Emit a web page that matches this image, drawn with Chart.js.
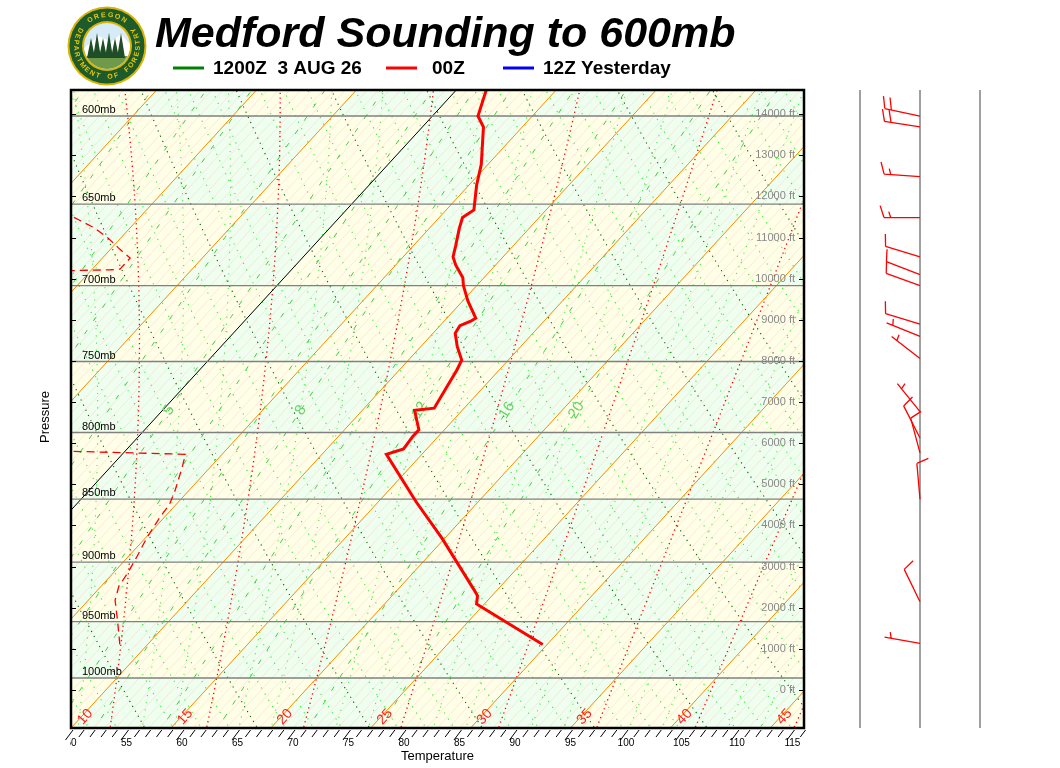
<!DOCTYPE html>
<html>
<head>
<meta charset="utf-8">
<script src="https://cdn.jsdelivr.net/npm/chart.js@4.4.0/dist/chart.umd.min.js"></script>
<style>
  html, body { margin: 0; padding: 0; background: #fff; }
  #sondeo { display: block; }
</style>
</head>
<body>
<canvas id="sondeo" width="1060" height="768"></canvas>
<script>
// Datos del sondeo 00Z (presion en mb, temperatura en F)
const presionTemp = [586, 600, 606, 627, 639, 653.5, 658, 664.5, 675, 682, 687, 695, 700, 710, 721, 723, 726, 731, 740, 749, 756, 768, 782.5, 784, 798, 803, 812, 816, 852, 881, 923, 928, 935, 970];
const temperaturaF = [34.7, 36.1, 37.5, 40.4, 41.7, 43.5, 43.1, 43.7, 44.8, 45.5, 46.4, 48.1, 48.8, 50.5, 52.6, 52.4, 51.8, 52.0, 53.3, 54.8, 55.2, 55.7, 56.3, 54.7, 56.7, 56.7, 56.9, 55.8, 62.4, 67.8, 74.9, 75.7, 76.3, 85.6];

// Punto de rocio (sale del grafico por la izquierda entre 806 y 694 mb)
const presionRocio = [970, 949, 931.6, 920, 909, 896, 880, 864, 854, 844, 826, 816, 806, 694, 690, 689.6, 687, 682.7, 676.4, 670.2, 664, 657.5, 643];
const rocioF = [47.5, 45.3, 43.4, 42.6, 42.3, 41.8, 41.1, 40.6, 40.4, 39.8, 38.5, 37.7, -10, -10, 15.7, 16.5, 16.5, 16.5, 14.6, 12.8, 10.7, 7.9, 1.1];

// Viento (direccion en grados, velocidad en nudos)
const vientoPresion = [600, 606, 634, 658, 682, 693, 700, 725, 733, 748, 785, 804, 815, 850, 933, 969];
const vientoDireccion = [282, 279, 274, 270, 287, 291, 290, 287, 292, 308, 321, 333, 345, 355, 334, 280];
const vientoNudos = [20, 20, 15, 15, 10, 10, 10, 10, 5, 5, 5, 10, 10, 10, 10, 5];

// Ejes y etiquetas
const etiquetasTemp = [50, 55, 60, 65, 70, 75, 80, 85, 90, 95, 100, 105, 110, 115];
const nivelesPresion = [600, 650, 700, 750, 800, 850, 900, 950, 1000];
const etiquetasPies = ['0 ft', '1000 ft', '2000 ft', '3000 ft', '4000 ft', '5000 ft', '6000 ft', '7000 ft', '8000 ft', '9000 ft', '10000 ft', '11000 ft', '12000 ft', '13000 ft', '14000 ft'];
const presionPies = [1010.8, 974.0, 938.2, 903.8, 870.5, 838.6, 807.9, 778.1, 749.6, 722.0, 695.6, 670.1, 645.4, 621.8, 598.9];
const isotermasC = [10, 15, 20, 25, 30, 35, 40, 45];
const razonMezcla = [0.5, 1, 1.5, 2, 2.5, 3, 4, 5, 6, 7, 8, 10, 12, 16, 20];
const razonMezclaEtiquetas = [5, 8, 12, 16, 20];

// Leyenda
const seriesNombre = ['1200Z  3 AUG 26', '00Z', '12Z Yesterday'];
const seriesColor = ['#008000', '#ff0000', '#0000ff'];

const SKEW = 90.9;      // desplazamiento (F) por unidad de ln(p)
const P_BASE = 1046.5;
const P_TOPE = 585.98;

function xSesgo(tf, p) { return tf + SKEW * Math.log(P_BASE / p); }
function cAF(c) { return c * 9 / 5 + 32; }

function dTdp(T, p) {
    const tc = T - 273.15;
    const es = 6.112 * Math.exp(17.67 * tc / (tc + 243.5));
    const rs = 0.622 * es / (p - es);
    const num = 287.04 * T + 2.501e6 * rs;
    const den = 1005.7 + (2.501e6 * 2.501e6 * rs * 0.622) / (287.04 * T * T);
    return num / (den * p);
}

// adiabata saturada a partir de theta-w (C), devuelve [[F, p], ...]
function adiabataHumeda(tw) {
    const arriba = [], abajo = [];
    let T = tw + 273.15;
    for (let p = 1000; p >= 580; p -= 5) {
        arriba.push([cAF(T - 273.15), p]);
        const k1 = dTdp(T, p);
        const k2 = dTdp(T - k1 * 5, p - 5);
        T -= (k1 + k2) / 2 * 5;
    }
    T = tw + 273.15;
    for (let p = 1000; p <= 1050; p += 5) {
        abajo.push([cAF(T - 273.15), p]);
        const k1 = dTdp(T, p);
        const k2 = dTdp(T + k1 * 5, p + 5);
        T += (k1 + k2) / 2 * 5;
    }
    return abajo.reverse().concat(arriba);
}

function rocioDeMezcla(w, p) {
    const e = w * p / (622 + w);
    const l = Math.log(e / 6.112);
    return cAF(243.5 * l / (17.67 - l));
}

function lineaMezcla(w) {
    const pts = [];
    for (let p = 1050; p >= 580; p -= 10) pts.push([rocioDeMezcla(w, p), p]);
    return pts;
}

function adiabataSeca(thetaF) {
    const tk = (thetaF - 32) * 5 / 9 + 273.15;
    const pts = [];
    for (let p = 1050; p >= 580; p -= 10) {
        pts.push([cAF(tk * Math.pow(p / 1000, 0.2857) - 273.15), p]);
    }
    return pts;
}

const fondoSkewT = {
    id: 'fondoSkewT',
    beforeDatasetsDraw(chart) {
        const { ctx, chartArea: a } = chart;
        const xs = chart.scales.x, ys = chart.scales.y;
        const X = (tf, p) => xs.getPixelForValue(xSesgo(tf, p));
        const Y = p => ys.getPixelForValue(p);
        const trazar = pts => {
            ctx.beginPath();
            pts.forEach(([tf, p], i) => i ? ctx.lineTo(X(tf, p), Y(p)) : ctx.moveTo(X(tf, p), Y(p)));
            ctx.stroke();
        };

        ctx.save();
        ctx.beginPath();
        ctx.rect(a.left, a.top, a.right - a.left, a.bottom - a.top);
        ctx.clip();

        // bandas amarillas / verdes
        const bordesP = [P_TOPE].concat(nivelesPresion, [P_BASE]);
        for (let j = 0; j < bordesP.length - 1; j++) {
            const pa = bordesP[j], pb = bordesP[j + 1];
            const idxP = Math.floor(pa / 50);
            for (let c = -30; c < 55; c += 5) {
                const f1 = cAF(c), f2 = cAF(c + 5);
                ctx.fillStyle = ((Math.floor(c / 5) + idxP) % 2 !== 0) ? 'rgb(255,255,232)' : 'rgb(239,255,239)';
                ctx.beginPath();
                ctx.moveTo(X(f1, pa), Y(pa));
                ctx.lineTo(X(f2, pa), Y(pa));
                ctx.lineTo(X(f2, pb), Y(pb));
                ctx.lineTo(X(f1, pb), Y(pb));
                ctx.closePath();
                ctx.fill();
            }
        }

        // isotermas finas cada 1 F
        ctx.strokeStyle = 'rgba(255,180,180,0.45)';
        ctx.lineWidth = 0.7;
        for (let f = -60; f <= 120; f++) trazar([[f, P_BASE], [f, P_TOPE]]);

        // adiabatas secas
        ctx.lineWidth = 1.1;
        for (let th = 20; th <= 200; th += 2.5) {
            const oscura = th % 10 === 0;
            ctx.strokeStyle = oscura ? '#006400' : '#33ee33';
            ctx.setLineDash(oscura ? [1.2, 4.5] : [1.2, 6]);
            trazar(adiabataSeca(th));
        }

        // adiabatas saturadas finas (dos entre cada roja)
        ctx.strokeStyle = '#44ee44';
        ctx.setLineDash([1.2, 6]);
        for (let tw = -10; tw < 50; tw += 5) {
            trazar(adiabataHumeda(tw + 5 / 3));
            trazar(adiabataHumeda(tw + 10 / 3));
        }

        // razon de mezcla
        ctx.strokeStyle = '#44cc44';
        ctx.lineWidth = 1;
        ctx.setLineDash([5, 11]);
        razonMezcla.forEach(w => trazar(lineaMezcla(w)));

        // adiabatas saturadas cada 5 C
        ctx.strokeStyle = '#ff0000';
        ctx.lineWidth = 1.3;
        ctx.setLineDash([1.3, 3.5]);
        for (let tw = -5; tw <= 45; tw += 5) trazar(adiabataHumeda(tw));
        ctx.setLineDash([]);

        // isotermas cada 5 C (0 C en negro)
        ctx.lineWidth = 1;
        for (let c = -40; c <= 50; c += 5) {
            ctx.strokeStyle = c === 0 ? '#000000' : '#ff8c00';
            trazar([[cAF(c), P_BASE], [cAF(c), P_TOPE]]);
        }

        // niveles de presion
        ctx.strokeStyle = '#808080';
        ctx.lineWidth = 1.3;
        nivelesPresion.forEach(p => {
            ctx.beginPath();
            ctx.moveTo(a.left, Y(p));
            ctx.lineTo(a.right, Y(p));
            ctx.stroke();
        });

        // etiquetas de razon de mezcla
        ctx.fillStyle = '#66d466';
        ctx.font = '15px "Liberation Sans", Arial';
        ctx.textAlign = 'center';
        ctx.textBaseline = 'middle';
        razonMezclaEtiquetas.forEach(w => {
            const x1 = X(rocioDeMezcla(w, 800), 800), y1 = Y(800);
            const x2 = X(rocioDeMezcla(w, 760), 760), y2 = Y(760);
            ctx.save();
            ctx.translate(X(rocioDeMezcla(w, 784), 784), Y(784));
            ctx.rotate(Math.atan2(y2 - y1, x2 - x1));
            ctx.fillText(String(w), 0, 0);
            ctx.restore();
        });

        // etiquetas de isotermas (C) abajo
        ctx.fillStyle = '#ff2020';
        ctx.font = '14px "Liberation Sans", Arial';
        const ang = Math.atan2(Y(P_TOPE) - Y(P_BASE), X(0, P_TOPE) - X(0, P_BASE));
        isotermasC.forEach(c => {
            ctx.save();
            ctx.translate(X(cAF(c), 1036) + 4, Y(1036));
            ctx.rotate(ang);
            ctx.fillText(String(c), 0, 0);
            ctx.restore();
        });

        // etiquetas de presion y altura
        ctx.fillStyle = '#000';
        ctx.font = '11px "Liberation Sans", Arial';
        ctx.textAlign = 'left';
        ctx.textBaseline = 'alphabetic';
        nivelesPresion.forEach(p => ctx.fillText(p + 'mb', a.left + 11, Y(p) - 3));

        ctx.fillStyle = '#888888';
        ctx.textAlign = 'right';
        ctx.textBaseline = 'middle';
        etiquetasPies.forEach((t, i) => ctx.fillText(t, a.right - 9, Y(presionPies[i])));

        ctx.restore();
    },
    afterDraw(chart) {
        const { ctx, chartArea: a } = chart;
        const xs = chart.scales.x, ys = chart.scales.y;
        const Y = p => ys.getPixelForValue(p);
        ctx.save();

        // marcas de altura a ambos lados
        ctx.strokeStyle = '#000';
        ctx.lineWidth = 1;
        presionPies.forEach(p => {
            const y = Math.round(Y(p)) + 0.5;
            ctx.beginPath();
            ctx.moveTo(a.left, y); ctx.lineTo(a.left + 5, y);
            ctx.moveTo(a.right - 5, y); ctx.lineTo(a.right, y);
            ctx.stroke();
        });

        // marco
        ctx.lineWidth = 2.5;
        ctx.strokeRect(a.left, a.top, a.right - a.left, a.bottom - a.top);

        // marcas inclinadas del eje de temperatura
        ctx.lineWidth = 1;
        for (let f = 50; f <= 116; f++) {
            const x = xs.getPixelForValue(f);
            const largo = f % 5 === 0 ? 10 : 7;
            ctx.beginPath();
            ctx.moveTo(x + 2, a.bottom + 2);
            ctx.lineTo(x + 2 - largo * 0.75, a.bottom + 2 + largo);
            ctx.stroke();
        }
        ctx.save();
        ctx.beginPath();
        ctx.rect(a.left - 1, a.bottom + 5, 760, 30);
        ctx.clip();
        ctx.fillStyle = '#000';
        ctx.font = '10px "Liberation Sans", Arial';
        ctx.textAlign = 'center';
        ctx.textBaseline = 'middle';
        etiquetasTemp.forEach(f => ctx.fillText(String(f), xs.getPixelForValue(f), a.bottom + 15));
        ctx.restore();

        // titulos de ejes
        ctx.fillStyle = '#000';
        ctx.font = '13px "Liberation Sans", Arial';
        ctx.textAlign = 'center';
        ctx.textBaseline = 'middle';
        ctx.fillText('Temperature', (a.left + a.right) / 2, a.bottom + 28);
        ctx.save();
        ctx.translate(45, (a.top + a.bottom) / 2 + 8);
        ctx.rotate(-Math.PI / 2);
        ctx.fillText('Pressure', 0, 0);
        ctx.restore();

        // panel de viento
        ctx.strokeStyle = '#808080';
        ctx.lineWidth = 1.5;
        [860, 920, 980].forEach(x => {
            ctx.beginPath();
            ctx.moveTo(x, a.top);
            ctx.lineTo(x, a.bottom);
            ctx.stroke();
        });
        ctx.strokeStyle = '#ff0000';
        ctx.lineWidth = 1.3;
        vientoPresion.forEach((p, i) => dibujarBarba(ctx, 920, Y(p), vientoDireccion[i], vientoNudos[i]));

        // titulo y leyenda
        ctx.fillStyle = '#000';
        ctx.textAlign = 'left';
        ctx.textBaseline = 'alphabetic';
        ctx.font = 'italic bold 43px "Liberation Sans", Arial';
        ctx.fillText('Medford Sounding to 600mb', 155, 47);

        const leyendaX = [173, 386, 503];
        ctx.font = 'bold 19px "Liberation Sans", Arial';
        ctx.textBaseline = 'middle';
        seriesNombre.forEach((n, i) => {
            ctx.strokeStyle = seriesColor[i];
            ctx.lineWidth = 3;
            ctx.beginPath();
            ctx.moveTo(leyendaX[i], 68);
            ctx.lineTo(leyendaX[i] + 31, 68);
            ctx.stroke();
            ctx.fillText(n, leyendaX[i] + (i === 1 ? 46 : 40), 69);
        });

        dibujarLogo(ctx, 107, 46);
        ctx.restore();
    }
};

function dibujarBarba(ctx, x0, y0, dir, nudos) {
    const L = 36, paso = 6.7, largo = 12.5;
    const rad = dir * Math.PI / 180;
    const ux = Math.sin(rad), uy = -Math.cos(rad);
    const px = -uy, py = ux;
    const a = 18 * Math.PI / 180;
    const fx = px * Math.cos(a) + ux * Math.sin(a);
    const fy = py * Math.cos(a) + uy * Math.sin(a);
    const x1 = x0 + ux * L, y1 = y0 + uy * L;
    ctx.beginPath();
    ctx.moveTo(x0, y0);
    ctx.lineTo(x1, y1);
    const enteras = Math.floor(nudos / 10);
    const media = nudos % 10 >= 5;
    let d = enteras === 0 ? paso : 0;
    for (let i = 0; i < enteras; i++) {
        const sx = x1 - ux * d, sy = y1 - uy * d;
        ctx.moveTo(sx, sy);
        ctx.lineTo(sx + fx * largo, sy + fy * largo);
        d += paso;
    }
    if (media) {
        const sx = x1 - ux * d, sy = y1 - uy * d;
        ctx.moveTo(sx, sy);
        ctx.lineTo(sx + fx * largo / 2, sy + fy * largo / 2);
    }
    ctx.stroke();
}

function textoCurvo(ctx, texto, cx, cy, r, centro, paso, abajo) {
    const n = texto.length;
    for (let i = 0; i < n; i++) {
        const ang = abajo ? centro - (i - (n - 1) / 2) * paso : centro + (i - (n - 1) / 2) * paso;
        ctx.save();
        ctx.translate(cx + r * Math.cos(ang), cy + r * Math.sin(ang));
        ctx.rotate(abajo ? ang - Math.PI / 2 : ang + Math.PI / 2);
        ctx.fillText(texto[i], 0, 0);
        ctx.restore();
    }
}

function dibujarLogo(ctx, cx, cy) {
    const circulo = (r, color) => {
        ctx.fillStyle = color;
        ctx.beginPath();
        ctx.arc(cx, cy, r, 0, Math.PI * 2);
        ctx.fill();
    };
    circulo(39.5, '#d9b400');
    circulo(37.5, '#1d5a2c');
    circulo(25, '#d9b400');
    circulo(23, '#d6ebf7');
    ctx.save();
    ctx.beginPath();
    ctx.arc(cx, cy, 23, 0, Math.PI * 2);
    ctx.clip();
    ctx.fillStyle = '#ffffff';
    ctx.beginPath();
    ctx.moveTo(cx - 23, cy + 2); ctx.lineTo(cx - 8, cy - 10); ctx.lineTo(cx + 4, cy - 4);
    ctx.lineTo(cx + 14, cy - 12); ctx.lineTo(cx + 23, cy - 2); ctx.lineTo(cx + 23, cy + 23); ctx.lineTo(cx - 23, cy + 23);
    ctx.fill();
    ctx.fillStyle = '#6f9a4a';
    ctx.fillRect(cx - 23, cy + 10, 46, 14);
    ctx.fillStyle = '#1f4d25';
    [-16, -10, -4, 2, 8, 14].forEach((dx, i) => {
        const h = 20 + (i % 2) * 5;
        ctx.beginPath();
        ctx.moveTo(cx + dx, cy + 12 - h);
        ctx.lineTo(cx + dx - 4, cy + 12);
        ctx.lineTo(cx + dx + 4, cy + 12);
        ctx.fill();
    });
    ctx.restore();
    ctx.fillStyle = '#e8c800';
    ctx.font = 'bold 7px "Liberation Sans", Arial';
    ctx.textAlign = 'center';
    ctx.textBaseline = 'middle';
    textoCurvo(ctx, 'OREGON', cx, cy, 31, -Math.PI / 2, 0.23, false);
    textoCurvo(ctx, 'DEPARTMENT OF FORESTRY', cx, cy, 31, Math.PI / 2, 0.2, true);
}

const puntosTemp = presionTemp.map((p, i) => ({ x: xSesgo(temperaturaF[i], p), y: p }));
const puntosRocio = presionRocio.map((p, i) => ({ x: xSesgo(rocioF[i], p), y: p }));

const ctx = document.getElementById('sondeo');
new Chart(ctx, {
    type: 'scatter',
    data: {
        datasets: [
            { label: seriesNombre[0], data: [], borderColor: seriesColor[0], showLine: true, pointRadius: 0 },
            { label: seriesNombre[1], data: puntosTemp, borderColor: seriesColor[1], borderWidth: 3, showLine: true, pointRadius: 0 },
            { label: seriesNombre[2], data: [], borderColor: seriesColor[2], showLine: true, pointRadius: 0 },
            { label: 'Td', data: puntosRocio, borderColor: '#ff0000', borderWidth: 1.3, borderDash: [8, 5], showLine: true, pointRadius: 0 }
        ]
    },
    options: {
        responsive: false,
        animation: false,
        devicePixelRatio: 1,
        layout: { padding: { left: 71, right: 256, top: 90, bottom: 40 } },
        scales: {
            x: { type: 'linear', min: 50, max: 116.04, display: false },
            y: { type: 'logarithmic', min: P_TOPE, max: P_BASE, reverse: true, display: false }
        },
        plugins: {
            legend: { display: false },
            tooltip: { enabled: false }
        }
    },
    plugins: [fondoSkewT]
});
</script>
</body>
</html>
